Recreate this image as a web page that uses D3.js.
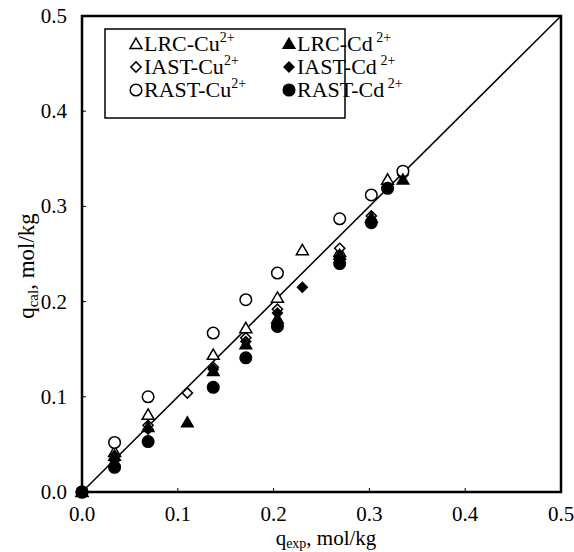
<!DOCTYPE html>
<html>
<head>
<meta charset="utf-8">
<script src="https://cdn.jsdelivr.net/npm/d3@7"></script>
<style>
  body { margin: 0; background: #fff; }
  svg text { font-family: "Liberation Serif", "Times New Roman", "DejaVu Serif", serif; fill: #000; }
</style>
</head>
<body>
<div id="chart"></div>
<script>
// experimental loadings (x) and calculated loadings (y), mol/kg
const lrcCuX  = [0, 0.034, 0.069, 0.137, 0.171, 0.204, 0.230, 0.269, 0.319];
const lrcCuY  = [0, 0.042, 0.081, 0.144, 0.172, 0.204, 0.254, 0.252, 0.328];
const lrcCdX  = [0, 0.034, 0.069, 0.110, 0.137, 0.171, 0.204, 0.269, 0.302, 0.335];
const lrcCdY  = [0, 0.038, 0.068, 0.073, 0.127, 0.155, 0.182, 0.249, 0.288, 0.328];
const iastCuX = [0, 0.034, 0.069, 0.110, 0.137, 0.171, 0.204, 0.269, 0.302, 0.335];
const iastCuY = [0, 0.038, 0.070, 0.104, 0.131, 0.162, 0.192, 0.256, 0.290, 0.333];
const iastCdX = [0, 0.034, 0.069, 0.137, 0.171, 0.204, 0.230, 0.269, 0.302, 0.319];
const iastCdY = [0, 0.033, 0.066, 0.129, 0.158, 0.188, 0.215, 0.246, 0.284, 0.320];
const rastCuX = [0, 0.034, 0.069, 0.137, 0.171, 0.204, 0.269, 0.302, 0.335];
const rastCuY = [0, 0.052, 0.100, 0.167, 0.202, 0.230, 0.287, 0.312, 0.337];
const rastCdX = [0, 0.034, 0.069, 0.137, 0.171, 0.204, 0.269, 0.302, 0.319];
const rastCdY = [0, 0.026, 0.053, 0.110, 0.141, 0.174, 0.240, 0.283, 0.319];

const ticks = [0, 0.1, 0.2, 0.3, 0.4, 0.5];

const W = 574, H = 552;
const plotL = 82, plotR = 561, plotT = 16, plotB = 492;
const serif = "Liberation Serif, Times New Roman, serif";

const svg = d3.select("#chart").append("svg")
    .attr("width", W)
    .attr("height", H)
    .attr("font-family", serif);

const x = d3.scaleLinear().domain([0, 0.5]).range([plotL, plotR]);
const y = d3.scaleLinear().domain([0, 0.5]).range([plotB, plotT]);

// series: open symbols for Cu, filled for Cd
const series = [
  {name: "LRC-Cu", xs: lrcCuX, ys: lrcCuY, shape: "tri", filled: false},
  {name: "IAST-Cu", xs: iastCuX, ys: iastCuY, shape: "dia", filled: false},
  {name: "RAST-Cu", xs: rastCuX, ys: rastCuY, shape: "cir", filled: false},
  {name: "LRC-Cd", xs: lrcCdX, ys: lrcCdY, shape: "tri", filled: true},
  {name: "IAST-Cd", xs: iastCdX, ys: iastCdY, shape: "dia", filled: true},
  {name: "RAST-Cd", xs: rastCdX, ys: rastCdY, shape: "cir", filled: true}
];

function drawMarker(g, shape, filled, cx, cy) {
  let m;
  if (shape == "cir") {
    m = g.append("circle").attr("cx", cx).attr("cy", cy).attr("r", 5.8);
  } else if (shape == "tri") {
    m = g.append("path")
      .attr("d", d3.symbol().type(d3.symbolTriangle).size(filled ? 58 : 62)())
      .attr("transform", "translate(" + cx + "," + (cy + 1) + ")");
  } else {
    m = g.append("path")
      .attr("d", d3.symbol().type(d3.symbolSquare).size(filled ? 48 : 52)())
      .attr("transform", "translate(" + cx + "," + cy + ") rotate(45)");
  }
  m.attr("fill", filled ? "#000" : "#fff")
   .attr("stroke", "#000")
   .attr("stroke-width", 1.5);
}

// ticks (small, inward)
svg.append("g").selectAll("line")
    .data(ticks).enter().append("line")
    .attr("x1", d => x(d)).attr("x2", d => x(d))
    .attr("y1", plotB).attr("y2", plotB - 4)
    .attr("stroke", "#000").attr("stroke-width", 1);
svg.append("g").selectAll("line")
    .data(ticks).enter().append("line")
    .attr("x1", plotL).attr("x2", plotL + 4)
    .attr("y1", d => y(d)).attr("y2", d => y(d))
    .attr("stroke", "#000").attr("stroke-width", 1);

// 1:1 line
svg.append("line")
    .attr("x1", x(0)).attr("y1", y(0))
    .attr("x2", x(0.5)).attr("y2", y(0.5))
    .attr("stroke", "#000").attr("stroke-width", 1.5);

// frame
svg.append("rect")
    .attr("x", plotL).attr("y", plotT)
    .attr("width", plotR - plotL).attr("height", plotB - plotT)
    .attr("fill", "none").attr("stroke", "#000").attr("stroke-width", 2.5);

// points
const pts = svg.append("g");
series.forEach(function(s) {
  s.xs.forEach(function(v, i) {
    drawMarker(pts, s.shape, s.filled, x(v), y(s.ys[i]));
  });
});

// tick labels
svg.append("g").selectAll("text")
    .data(ticks).enter().append("text")
    .attr("x", d => x(d))
    .attr("y", plotB + 29)
    .attr("text-anchor", "middle")
    .attr("font-size", 21)
    .text(d => d.toFixed(1));
svg.append("g").selectAll("text")
    .data(ticks).enter().append("text")
    .attr("x", plotL - 15)
    .attr("y", d => y(d) + 7)
    .attr("text-anchor", "end")
    .attr("font-size", 21)
    .text(d => d.toFixed(1));

// axis titles
const xt = svg.append("text")
    .attr("x", 326).attr("y", 545)
    .attr("text-anchor", "middle")
    .attr("font-size", 21);
xt.append("tspan").text("q");
xt.append("tspan").attr("font-size", 14).attr("dy", 3).text("exp");
xt.append("tspan").attr("dy", -3).text(", mol/kg");

const yt = svg.append("text")
    .attr("transform", "translate(34," + 266 + ") rotate(-90)")
    .attr("text-anchor", "middle")
    .attr("font-size", 23);
yt.append("tspan").text("q");
yt.append("tspan").attr("font-size", 15).attr("dy", 4).text("cal");
yt.append("tspan").attr("dy", -4).text(", mol/kg");

// legend
const leg = svg.append("g");
leg.append("rect")
    .attr("x", 105).attr("y", 29)
    .attr("width", 240).attr("height", 89)
    .attr("fill", "#fff").attr("stroke", "#000").attr("stroke-width", 1.5);

const legRows = [["LRC-Cu", "LRC-Cd"], ["IAST-Cu", "IAST-Cd"], ["RAST-Cu", "RAST-Cd"]];
legRows.forEach(function(row, r) {
  row.forEach(function(name, c) {
    const s = series.find(d => d.name == name);
    const cy = 44 + r * 23;
    const mx = c == 0 ? 136 : 289;
    drawMarker(leg, s.shape, s.filled, mx, cy);
    const t = leg.append("text")
        .attr("x", mx + 8).attr("y", cy + 7)
        .attr("font-size", 22);
    t.append("tspan").text(name);
    t.append("tspan").attr("font-size", 14).attr("dy", -9).text(c == 0 ? "2+" : "\u00a02+");
  });
});
</script>
</body>
</html>
